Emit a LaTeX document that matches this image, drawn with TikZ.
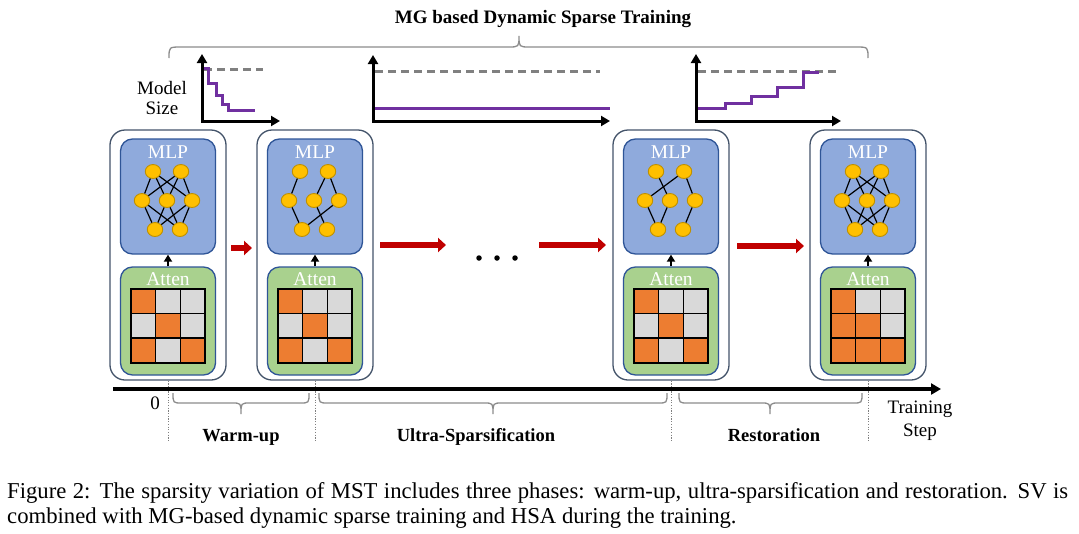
\documentclass[tikz,border=0pt]{standalone}
\usepackage{fontspec}
\setmainfont{Liberation Serif}
\usetikzlibrary{arrows.meta,shapes.geometric}
\definecolor{blockborder}{HTML}{44546A}
\definecolor{mlpfill}{HTML}{8FAADC}
\definecolor{boxborder}{HTML}{2F5597}
\definecolor{attfill}{HTML}{A9D18E}
\definecolor{cellorange}{HTML}{ED7D31}
\definecolor{cellgrey}{HTML}{D9D9D9}
\definecolor{neuronfill}{HTML}{FFC000}
\definecolor{neuronborder}{HTML}{BF9000}
\definecolor{redarrow}{HTML}{C00000}
\definecolor{purpleline}{HTML}{7030A0}
\definecolor{bracegrey}{HTML}{8C8C8C}
\definecolor{dashgrey}{HTML}{808080}

\tikzset{
  blockbox/.style={draw=blockborder, line width=1.3pt, fill=white, rounded corners=15pt,
    minimum width=116pt, minimum height=250pt, inner sep=0pt},
  mlpbox/.style={draw=boxborder, line width=1.3pt, fill=mlpfill, rounded corners=12pt,
    minimum width=95pt, minimum height=115pt, inner sep=0pt},
  attbox/.style={draw=boxborder, line width=1.3pt, fill=attfill, rounded corners=12pt,
    minimum width=95pt, minimum height=108pt, inner sep=0pt},
  boxlabel/.style={text=white, font=\fontsize{19.5}{21}\selectfont, inner sep=0pt},
  neuron/.style={ellipse, draw=neuronborder, fill=neuronfill, line width=0.9pt,
    minimum width=15.5pt, minimum height=14pt, inner sep=0pt},
  synapse/.style={line width=1.2pt, black},
  cellbox/.style={draw=black, line width=1.5pt},
  uparrow/.style={line width=1.8pt, -{Triangle[length=7pt,width=8pt]}},
  redflow/.style={line width=5.5pt, redarrow, -{Triangle[length=8pt,width=14pt]}},
  chartaxis/.style={line width=3pt, black, line join=miter, {Triangle[length=9pt,width=10pt]}-{Triangle[length=9pt,width=10pt]}},
  fulllevel/.style={line width=3pt, dashgrey, dash pattern=on 8pt off 5pt},
  sizeline/.style={line width=3pt, purpleline, line join=miter},
  timeaxis/.style={line width=3.5pt, black, -{Triangle[length=10pt,width=11pt]}},
  phasedot/.style={line width=0.9pt, dashgrey, dash pattern=on 1.2pt off 1.5pt},
  bracestyle/.style={line width=1.3pt, bracegrey},
  figtext/.style={font=\fontsize{19}{21}\selectfont, inner sep=0pt},
  phaselabel/.style={font=\fontsize{18.5}{21}\bfseries\selectfont, inner sep=0pt},
  dotnode/.style={circle, fill=black, minimum size=5.5pt, inner sep=0pt}
}

\newcommand\mstblock[2]{%
  \node[blockbox] (blk#1) at (#2,255) {};
  \node[mlpbox] (mlp#1) at (#2,196.5) {};
  \node[attbox] (att#1) at (#2,321) {};
  \node[boxlabel] (mlplab#1) at (#2,152) {MLP};
  \node[boxlabel] (attlab#1) at (#2,279.5) {Atten};
  \draw[uparrow] (att#1.north) -- (mlp#1.south);
  \node[neuron] (n#1t1) at (#2-15,171.5) {};
  \node[neuron] (n#1t2) at (#2+13,171.5) {};
  \node[neuron] (n#1m1) at (#2-26,200.5) {};
  \node[neuron] (n#1m2) at (#2-1,200.5) {};
  \node[neuron] (n#1m3) at (#2+24,200.5) {};
  \node[neuron] (n#1b1) at (#2-13,229.5) {};
  \node[neuron] (n#1b2) at (#2+12,229.5) {};
}

\newcommand\mstgrid[2]{%
  \foreach \cellcol [count=\k from 0] in {#2} {
    \pgfmathtruncatemacro\gr{int(\k/3)}
    \pgfmathtruncatemacro\gc{mod(\k,3)}
    \filldraw[cellbox, fill=\cellcol] ({#1-36.9+\gc*24.6},{289+\gr*24.6}) rectangle ++(24.6,24.6);
  }
}

\newcommand\phasebrace[4]{% name, left, tip, right
  \draw[bracestyle] (#2,393) .. controls (#2,403) .. (#2+9,403) -- (#3-9,403)
    .. controls (#3,403) .. (#3,414) .. controls (#3,403) .. (#3+9,403)
    -- (#4-9,403) .. controls (#4,403) .. (#4,393);
}

\begin{document}
\begin{tikzpicture}[x=1pt,y=-1pt]
\useasboundingbox (0,0) rectangle (1079,533);
\fill[white] (0,0) rectangle (1079,533);

% title and top brace
\node[font=\fontsize{19}{22}\bfseries\selectfont, inner sep=0pt, anchor=base] (title) at (543,23) {MG based Dynamic Sparse Training};
\draw[bracestyle] (169,58) .. controls (169,47) .. (181,47) -- (508,47)
  .. controls (519,47) .. (519,36) .. controls (519,47) .. (530,47)
  -- (856,47) .. controls (868,47) .. (868,58);

% chart 1
\node[figtext, align=center, font=\fontsize{19}{20}\selectfont] (msize) at (162,98) {Model\\Size};
\coordinate (c1y) at (202,54);
\coordinate (c1o) at (202,121);
\coordinate (c1x) at (280,121);
\draw[fulllevel] (204,69) -- (263,69);
\draw[sizeline] (203,68) -- (208,68) -- (208,83) -- (216,83) -- (216,95) -- (222,95)
  -- (222,104) -- (228,104) -- (228,110) -- (255,110);
\draw[chartaxis] (c1y) -- (c1o) -- (c1x);

% chart 2
\coordinate (c2y) at (373,55);
\coordinate (c2o) at (373,121);
\coordinate (c2x) at (610,121);
\draw[fulllevel] (375,71) -- (600,71);
\draw[sizeline] (373,108) -- (610,108);
\draw[chartaxis] (c2y) -- (c2o) -- (c2x);

% chart 3
\coordinate (c3y) at (696,54);
\coordinate (c3o) at (696,121);
\coordinate (c3x) at (841,121);
\draw[fulllevel] (698,71) -- (839,71);
\draw[sizeline] (697,108) -- (725,108) -- (725,103) -- (751,103) -- (751,96) -- (777,96)
  -- (777,87) -- (803,87) -- (803,72) -- (819,72);
\draw[chartaxis] (c3y) -- (c3o) -- (c3x);

% blocks
\mstblock{1}{168}
\mstblock{2}{315}
\mstblock{3}{671}
\mstblock{4}{868}

\mstgrid{168}{cellorange,cellgrey,cellgrey,cellgrey,cellorange,cellgrey,cellorange,cellgrey,cellorange}
\mstgrid{315}{cellorange,cellgrey,cellgrey,cellgrey,cellorange,cellgrey,cellorange,cellgrey,cellorange}
\mstgrid{671}{cellorange,cellgrey,cellgrey,cellgrey,cellorange,cellgrey,cellorange,cellgrey,cellorange}
\mstgrid{868}{cellorange,cellgrey,cellgrey,cellorange,cellorange,cellgrey,cellorange,cellorange,cellorange}

% networks
\foreach \bb in {1,4} {
  \foreach \aa in {t1,t2} \foreach \cc in {m1,m2,m3} \draw[synapse] (n\bb\aa) -- (n\bb\cc);
  \foreach \aa in {m1,m2,m3} \foreach \cc in {b1,b2} \draw[synapse] (n\bb\aa) -- (n\bb\cc);
}
\draw[synapse] (n2t1) -- (n2m1);
\draw[synapse] (n2t2) -- (n2m2);
\draw[synapse] (n2t2) -- (n2m3);
\draw[synapse] (n2m1) -- (n2b1);
\draw[synapse] (n2m3) -- (n2b1);
\draw[synapse] (n2m2) -- (n2b2);

\draw[synapse] (n3t1) -- (n3m2);
\draw[synapse] (n3t2) -- (n3m1);
\draw[synapse] (n3t2) -- (n3m3);
\draw[synapse] (n3m1) -- (n3b1);
\draw[synapse] (n3m2) -- (n3b1);
\draw[synapse] (n3m3) -- (n3b2);

% red flow arrows
\coordinate (r1s) at (231,248); \coordinate (r1e) at (252,248);
\coordinate (r2s) at (380,245); \coordinate (r2e) at (446,245);
\coordinate (r3s) at (539,245); \coordinate (r3e) at (606,245);
\coordinate (r4s) at (737,246); \coordinate (r4e) at (804,246);
\draw[redflow] (r1s) -- (r1e);
\draw[redflow] (r2s) -- (r2e);
\draw[redflow] (r3s) -- (r3e);
\draw[redflow] (r4s) -- (r4e);
\node[dotnode] (dot1) at (479,258) {};
\node[dotnode] (dot2) at (497,258) {};
\node[dotnode] (dot3) at (515,258) {};

% timeline
\coordinate (tl0) at (113,389);
\coordinate (tl1) at (941,389);
\draw[phasedot] (blk1.south) -- ++(0,62);
\draw[phasedot] (blk2.south) -- ++(0,62);
\draw[phasedot] (blk3.south) -- ++(0,62);
\draw[phasedot] (blk4.south) -- ++(0,62);
\draw[timeaxis] (tl0) -- (tl1);

\node[figtext, anchor=base] (zero) at (155,409) {0};
\node[figtext, align=center, font=\fontsize{19}{23}\selectfont] (tstep) at (920,421) {Training\\Step};

\phasebrace{wb}{173}{241}{309}
\phasebrace{ub}{319}{493}{667}
\phasebrace{rb}{679}{770}{862}
\node[phaselabel, anchor=base] (warm) at (241,441) {Warm-up};
\node[phaselabel, anchor=base] (ultra) at (476,441) {Ultra-Sparsification};
\node[phaselabel, anchor=base] (resto) at (774,441) {Restoration};

% caption
\node[anchor=base west, inner sep=0pt, font=\fontsize{22.7}{25}\selectfont] (cap1) at (7,498)
  {\makebox[1061pt][s]{Figure 2: The sparsity variation of MST includes three phases: warm-up, ultra-sparsification and restoration. SV is}};
\node[anchor=base west, inner sep=0pt, font=\fontsize{22.7}{25}\selectfont] (cap2) at (7,523)
  {combined with MG-based dynamic sparse training and HSA during the training.};
\end{tikzpicture}
\end{document}
